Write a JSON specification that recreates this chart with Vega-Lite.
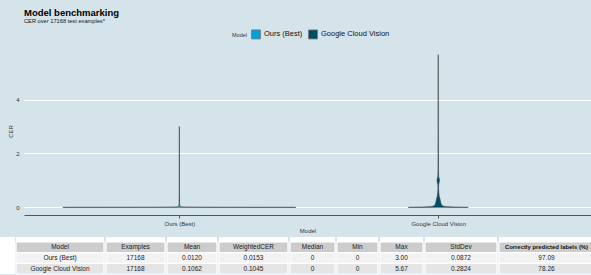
{
  "$schema": "https://vega.github.io/schema/vega-lite/v6.json",
  "padding": {"left": 0, "top": 7, "right": 0, "bottom": 0},
  "background": "#d5e4eb",
  "config": {"view": {"stroke": null}, "font": "Liberation Sans"},
  "datasets": {
    "violin": [
      {"model": "Ours (Best)", "cer": 0, "lo": 0.55, "hi": 1.45},
      {"model": "Ours (Best)", "cer": 0.003, "lo": 0.9, "hi": 1.1},
      {"model": "Ours (Best)", "cer": 0.008, "lo": 0.97, "hi": 1.03},
      {"model": "Ours (Best)", "cer": 0.015, "lo": 0.99, "hi": 1.01},
      {"model": "Ours (Best)", "cer": 0.03, "lo": 0.996, "hi": 1.004},
      {"model": "Ours (Best)", "cer": 0.06, "lo": 0.998, "hi": 1.002},
      {"model": "Ours (Best)", "cer": 0.15, "lo": 0.999, "hi": 1.001},
      {"model": "Ours (Best)", "cer": 0.5, "lo": 0.9995, "hi": 1.0005},
      {"model": "Ours (Best)", "cer": 3.0, "lo": 1, "hi": 1},
      {"model": "Google Cloud Vision", "cer": 0, "lo": 1.884, "hi": 2.116},
      {"model": "Google Cloud Vision", "cer": 0.01, "lo": 1.94, "hi": 2.06},
      {"model": "Google Cloud Vision", "cer": 0.025, "lo": 1.97, "hi": 2.03},
      {"model": "Google Cloud Vision", "cer": 0.05, "lo": 1.982, "hi": 2.018},
      {"model": "Google Cloud Vision", "cer": 0.1, "lo": 1.988, "hi": 2.012},
      {"model": "Google Cloud Vision", "cer": 0.2, "lo": 1.991, "hi": 2.009},
      {"model": "Google Cloud Vision", "cer": 0.3, "lo": 1.993, "hi": 2.007},
      {"model": "Google Cloud Vision", "cer": 0.4, "lo": 1.996, "hi": 2.004},
      {"model": "Google Cloud Vision", "cer": 0.55, "lo": 1.998, "hi": 2.002},
      {"model": "Google Cloud Vision", "cer": 0.7, "lo": 1.9988, "hi": 2.0012},
      {"model": "Google Cloud Vision", "cer": 0.85, "lo": 1.9985, "hi": 2.0015},
      {"model": "Google Cloud Vision", "cer": 0.95, "lo": 1.996, "hi": 2.004},
      {"model": "Google Cloud Vision", "cer": 1.0, "lo": 1.995, "hi": 2.005},
      {"model": "Google Cloud Vision", "cer": 1.05, "lo": 1.996, "hi": 2.004},
      {"model": "Google Cloud Vision", "cer": 1.15, "lo": 1.9985, "hi": 2.0015},
      {"model": "Google Cloud Vision", "cer": 1.4, "lo": 1.9992, "hi": 2.0008},
      {"model": "Google Cloud Vision", "cer": 2.0, "lo": 1.9995, "hi": 2.0005},
      {"model": "Google Cloud Vision", "cer": 3.0, "lo": 1.9997, "hi": 2.0003},
      {"model": "Google Cloud Vision", "cer": 4.0, "lo": 1.9998, "hi": 2.0002},
      {"model": "Google Cloud Vision", "cer": 5.67, "lo": 2, "hi": 2}
    ],
    "table": [
      {"row": "header", "col": "Model", "text": "Model"},
      {"row": "ours", "col": "Model", "text": "Ours (Best)"},
      {"row": "google", "col": "Model", "text": "Google Cloud Vision"},
      {"row": "header", "col": "Examples", "text": "Examples"},
      {"row": "ours", "col": "Examples", "text": "17168"},
      {"row": "google", "col": "Examples", "text": "17168"},
      {"row": "header", "col": "Mean", "text": "Mean"},
      {"row": "ours", "col": "Mean", "text": "0.0120"},
      {"row": "google", "col": "Mean", "text": "0.1062"},
      {"row": "header", "col": "WeightedCER", "text": "WeightedCER"},
      {"row": "ours", "col": "WeightedCER", "text": "0.0153"},
      {"row": "google", "col": "WeightedCER", "text": "0.1045"},
      {"row": "header", "col": "Median", "text": "Median"},
      {"row": "ours", "col": "Median", "text": "0"},
      {"row": "google", "col": "Median", "text": "0"},
      {"row": "header", "col": "Min", "text": "Min"},
      {"row": "ours", "col": "Min", "text": "0"},
      {"row": "google", "col": "Min", "text": "0"},
      {"row": "header", "col": "Max", "text": "Max"},
      {"row": "ours", "col": "Max", "text": "3.00"},
      {"row": "google", "col": "Max", "text": "5.67"},
      {"row": "header", "col": "StdDev", "text": "StdDev"},
      {"row": "ours", "col": "StdDev", "text": "0.0872"},
      {"row": "google", "col": "StdDev", "text": "0.2824"},
      {"row": "header", "col": "Correct", "text": "Correctly predicted labels (%)"},
      {"row": "ours", "col": "Correct", "text": "97.09"},
      {"row": "google", "col": "Correct", "text": "78.26"}
    ]
  },
  "spacing": 3,
  "resolve": {"scale": {"x": "independent", "y": "independent"}},
  "vconcat": [
    {
      "width": 591,
      "height": 168,
      "title": {
        "text": "Model benchmarking",
        "subtitle": "CER over 17168 test examples*",
        "anchor": "start",
        "frame": "group",
        "dx": 24,
        "fontSize": 9.5,
        "fontWeight": "bold",
        "color": "#000000",
        "subtitleFontSize": 5.7,
        "subtitleColor": "#111111",
        "subtitlePadding": 0.5,
        "offset": 23.5
      },
      "data": {"name": "violin"},
      "mark": {"type": "area", "orient": "horizontal", "stroke": "#3a3a3a", "strokeWidth": 0.6},
      "encoding": {
        "y": {
          "field": "cer", "type": "quantitative",
          "scale": {"domain": [-0.2835, 5.9535], "nice": false, "zero": false},
          "axis": {
            "values": [0, 2, 4], "title": "CER", "grid": true, "gridColor": "#ffffff", "gridWidth": 1,
            "ticks": false, "domain": false, "offset": -24, "labelFontSize": 6, "labelColor": "#333333", "labelPadding": 5,
            "titleFontSize": 6, "titleFontWeight": "normal", "titleColor": "#333333", "titleX": -11
          }
        },
        "x": {
          "field": "lo", "type": "quantitative", "stack": null,
          "scale": {"domain": [0.4, 2.59], "range": [24, 591], "nice": false, "zero": false},
          "axis": {
            "values": [1, 2],
            "labelExpr": "datum.value == 1 ? 'Ours (Best)' : 'Google Cloud Vision'",
            "title": "Model", "grid": false, "domainColor": "#555555", "domainWidth": 1,
            "tickColor": "#555555", "tickSize": 3, "labelFontSize": 6, "labelColor": "#333333",
            "labelPadding": 2, "titleFontSize": 6, "titleFontWeight": "normal", "titleColor": "#333333",
            "titlePadding": 1.5
          }
        },
        "x2": {"field": "hi"},
        "fill": {
          "field": "model", "type": "nominal",
          "scale": {"domain": ["Ours (Best)", "Google Cloud Vision"], "range": ["#01a2d9", "#014d64"]},
          "legend": {
            "orient": "none", "legendX": 232, "legendY": -18, "direction": "horizontal",
            "title": "Model", "titleOrient": "left", "titleFontSize": 5.5, "titleFontWeight": "normal",
            "titleColor": "#333333", "titlePadding": 4, "labelFontSize": 7.5, "labelColor": "#111111",
            "symbolType": "square", "symbolSize": 81, "symbolStrokeColor": "#777777", "symbolStrokeWidth": 0.8,
            "symbolOpacity": 1, "labelOffset": 3, "columnPadding": 3
          }
        }
      }
    },
    {
      "spacing": 0,
      "resolve": {"scale": {"x": "independent", "y": "independent"}},
      "hconcat": [
        {"width": 15, "height": 37, "view": {"fill": "#ffffff", "stroke": null}, "data": {"values": [{"a": 1}]}, "mark": {"type": "point", "opacity": 0}},
        {"width": 88, "height": 37, "view": {"fill": "#ffffff", "stroke": null}, "data": {"name": "table"}, "transform": [{"filter": "datum.col === 'Model'"}],
          "encoding": {"x": {"field": "col", "type": "nominal", "axis": null, "scale": {"paddingInner": 0, "paddingOuter": 0}}, "y": {"field": "row", "type": "nominal", "axis": null, "scale": {"domain": ["header", "ours", "google"], "range": [5, 37], "paddingInner": 0, "paddingOuter": 0}}},
          "layer": [
            {"mark": {"type": "rect", "stroke": "#ffffff", "strokeWidth": 1.2}, "encoding": {"fill": {"condition": [{"test": "datum.row === 'header'", "value": "#cccccc"}, {"test": "datum.row === 'ours'", "value": "#f2f2f2"}], "value": "#e5e5e5"}}},
            {"mark": {"type": "text", "fontSize": 6.5, "color": "#222222"}, "encoding": {"text": {"field": "text"}}}
          ]},
        {"width": 59, "height": 37, "view": {"fill": "#ffffff", "stroke": null}, "data": {"name": "table"}, "transform": [{"filter": "datum.col === 'Examples'"}],
          "encoding": {"x": {"field": "col", "type": "nominal", "axis": null, "scale": {"paddingInner": 0, "paddingOuter": 0}}, "y": {"field": "row", "type": "nominal", "axis": null, "scale": {"domain": ["header", "ours", "google"], "range": [5, 37], "paddingInner": 0, "paddingOuter": 0}}},
          "layer": [
            {"mark": {"type": "rect", "stroke": "#ffffff", "strokeWidth": 1.2}, "encoding": {"fill": {"condition": [{"test": "datum.row === 'header'", "value": "#cccccc"}, {"test": "datum.row === 'ours'", "value": "#f2f2f2"}], "value": "#e5e5e5"}}},
            {"mark": {"type": "text", "fontSize": 6.5, "color": "#222222"}, "encoding": {"text": {"field": "text"}}}
          ]},
        {"width": 50, "height": 37, "view": {"fill": "#ffffff", "stroke": null}, "data": {"name": "table"}, "transform": [{"filter": "datum.col === 'Mean'"}],
          "encoding": {"x": {"field": "col", "type": "nominal", "axis": null, "scale": {"paddingInner": 0, "paddingOuter": 0}}, "y": {"field": "row", "type": "nominal", "axis": null, "scale": {"domain": ["header", "ours", "google"], "range": [5, 37], "paddingInner": 0, "paddingOuter": 0}}},
          "layer": [
            {"mark": {"type": "rect", "stroke": "#ffffff", "strokeWidth": 1.2}, "encoding": {"fill": {"condition": [{"test": "datum.row === 'header'", "value": "#cccccc"}, {"test": "datum.row === 'ours'", "value": "#f2f2f2"}], "value": "#e5e5e5"}}},
            {"mark": {"type": "text", "fontSize": 6.5, "color": "#222222"}, "encoding": {"text": {"field": "text"}}}
          ]},
        {"width": 69, "height": 37, "view": {"fill": "#ffffff", "stroke": null}, "data": {"name": "table"}, "transform": [{"filter": "datum.col === 'WeightedCER'"}],
          "encoding": {"x": {"field": "col", "type": "nominal", "axis": null, "scale": {"paddingInner": 0, "paddingOuter": 0}}, "y": {"field": "row", "type": "nominal", "axis": null, "scale": {"domain": ["header", "ours", "google"], "range": [5, 37], "paddingInner": 0, "paddingOuter": 0}}},
          "layer": [
            {"mark": {"type": "rect", "stroke": "#ffffff", "strokeWidth": 1.2}, "encoding": {"fill": {"condition": [{"test": "datum.row === 'header'", "value": "#cccccc"}, {"test": "datum.row === 'ours'", "value": "#f2f2f2"}], "value": "#e5e5e5"}}},
            {"mark": {"type": "text", "fontSize": 6.5, "color": "#222222"}, "encoding": {"text": {"field": "text"}}}
          ]},
        {"width": 45, "height": 37, "view": {"fill": "#ffffff", "stroke": null}, "data": {"name": "table"}, "transform": [{"filter": "datum.col === 'Median'"}],
          "encoding": {"x": {"field": "col", "type": "nominal", "axis": null, "scale": {"paddingInner": 0, "paddingOuter": 0}}, "y": {"field": "row", "type": "nominal", "axis": null, "scale": {"domain": ["header", "ours", "google"], "range": [5, 37], "paddingInner": 0, "paddingOuter": 0}}},
          "layer": [
            {"mark": {"type": "rect", "stroke": "#ffffff", "strokeWidth": 1.2}, "encoding": {"fill": {"condition": [{"test": "datum.row === 'header'", "value": "#cccccc"}, {"test": "datum.row === 'ours'", "value": "#f2f2f2"}], "value": "#e5e5e5"}}},
            {"mark": {"type": "text", "fontSize": 6.5, "color": "#222222"}, "encoding": {"text": {"field": "text"}}}
          ]},
        {"width": 41, "height": 37, "view": {"fill": "#ffffff", "stroke": null}, "data": {"name": "table"}, "transform": [{"filter": "datum.col === 'Min'"}],
          "encoding": {"x": {"field": "col", "type": "nominal", "axis": null, "scale": {"paddingInner": 0, "paddingOuter": 0}}, "y": {"field": "row", "type": "nominal", "axis": null, "scale": {"domain": ["header", "ours", "google"], "range": [5, 37], "paddingInner": 0, "paddingOuter": 0}}},
          "layer": [
            {"mark": {"type": "rect", "stroke": "#ffffff", "strokeWidth": 1.2}, "encoding": {"fill": {"condition": [{"test": "datum.row === 'header'", "value": "#cccccc"}, {"test": "datum.row === 'ours'", "value": "#f2f2f2"}], "value": "#e5e5e5"}}},
            {"mark": {"type": "text", "fontSize": 6.5, "color": "#222222"}, "encoding": {"text": {"field": "text"}}}
          ]},
        {"width": 43, "height": 37, "view": {"fill": "#ffffff", "stroke": null}, "data": {"name": "table"}, "transform": [{"filter": "datum.col === 'Max'"}],
          "encoding": {"x": {"field": "col", "type": "nominal", "axis": null, "scale": {"paddingInner": 0, "paddingOuter": 0}}, "y": {"field": "row", "type": "nominal", "axis": null, "scale": {"domain": ["header", "ours", "google"], "range": [5, 37], "paddingInner": 0, "paddingOuter": 0}}},
          "layer": [
            {"mark": {"type": "rect", "stroke": "#ffffff", "strokeWidth": 1.2}, "encoding": {"fill": {"condition": [{"test": "datum.row === 'header'", "value": "#cccccc"}, {"test": "datum.row === 'ours'", "value": "#f2f2f2"}], "value": "#e5e5e5"}}},
            {"mark": {"type": "text", "fontSize": 6.5, "color": "#222222"}, "encoding": {"text": {"field": "text"}}}
          ]},
        {"width": 72, "height": 37, "view": {"fill": "#ffffff", "stroke": null}, "data": {"name": "table"}, "transform": [{"filter": "datum.col === 'StdDev'"}],
          "encoding": {"x": {"field": "col", "type": "nominal", "axis": null, "scale": {"paddingInner": 0, "paddingOuter": 0}}, "y": {"field": "row", "type": "nominal", "axis": null, "scale": {"domain": ["header", "ours", "google"], "range": [5, 37], "paddingInner": 0, "paddingOuter": 0}}},
          "layer": [
            {"mark": {"type": "rect", "stroke": "#ffffff", "strokeWidth": 1.2}, "encoding": {"fill": {"condition": [{"test": "datum.row === 'header'", "value": "#cccccc"}, {"test": "datum.row === 'ours'", "value": "#f2f2f2"}], "value": "#e5e5e5"}}},
            {"mark": {"type": "text", "fontSize": 6.5, "color": "#222222"}, "encoding": {"text": {"field": "text"}}}
          ]},
        {"width": 95, "height": 37, "view": {"fill": "#ffffff", "stroke": null}, "data": {"name": "table"}, "transform": [{"filter": "datum.col === 'Correct'"}],
          "encoding": {"x": {"field": "col", "type": "nominal", "axis": null, "scale": {"paddingInner": 0, "paddingOuter": 0}}, "y": {"field": "row", "type": "nominal", "axis": null, "scale": {"domain": ["header", "ours", "google"], "range": [5, 37], "paddingInner": 0, "paddingOuter": 0}}},
          "layer": [
            {"mark": {"type": "rect", "stroke": "#ffffff", "strokeWidth": 1.2}, "encoding": {"fill": {"condition": [{"test": "datum.row === 'header'", "value": "#cccccc"}, {"test": "datum.row === 'ours'", "value": "#f2f2f2"}], "value": "#e5e5e5"}}},
            {"transform": [{"filter": "datum.row !== 'header'"}], "mark": {"type": "text", "fontSize": 6.5, "color": "#222222"}, "encoding": {"text": {"field": "text"}}},
            {"transform": [{"filter": "datum.row === 'header'"}], "mark": {"type": "text", "fontSize": 5.9, "fontWeight": "bold", "color": "#111111"}, "encoding": {"text": {"field": "text"}}}
          ]},
        {"width": 14, "height": 37, "view": {"fill": "#ffffff", "stroke": null}, "data": {"values": [{"a": 1}]}, "mark": {"type": "point", "opacity": 0}}
      ]
    }
  ]
}
